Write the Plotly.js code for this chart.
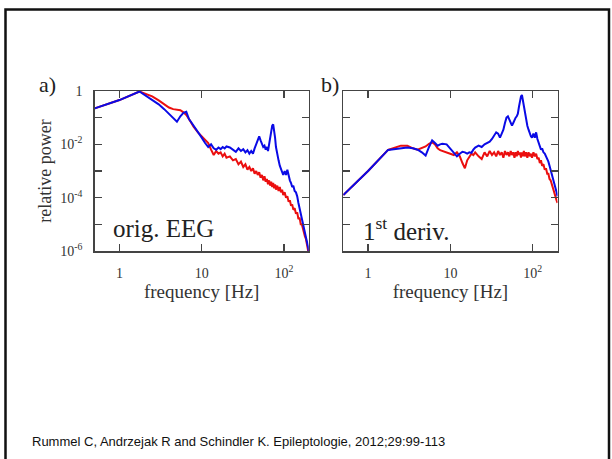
<!DOCTYPE html>
<html>
<head>
<meta charset="utf-8">
<script src="https://cdn.plot.ly/plotly-3.0.1.min.js"></script>
<style>html,body{margin:0;padding:0;background:#fff;}#chart{width:612px;height:459px;}</style>
</head>
<body>
<div id="chart"></div>
<script>
// frequency bins [Hz]
const freq = [0.5,1,1.75,2.5,3,3.5,4,4.5,5,5.5,6,6.5,7,7.5,8,9,10,11,12,13,14,15,16,17,18,19,20,22,24,26,28,30,32,34,36,38,40,42,44,46,48,50,52,54,56,58,60,62,64,66,68,70,72,74,76,78,80,83,86,89,92,95,98,102,106,110,114,118,122,126,130,135,140,145,150,155,160,165,170,175,180,185,190,195,200];

// panel a) original EEG, log10(relative power)
const blueA_log10 = [-0.65,-0.34,-0.02,-0.35,-0.5,-0.68,-0.85,-1.0,-1.15,-0.95,-0.82,-0.78,-1.05,-1.18,-1.3,-1.55,-1.75,-1.95,-2.1,-2.0,-2.15,-2.2,-2.12,-2.18,-2.1,-2.15,-2.08,-2.12,-2.2,-2.28,-2.15,-2.25,-2.18,-2.3,-2.22,-2.35,-2.25,-2.35,-2.15,-2.0,-1.8,-1.7,-1.85,-1.95,-2.1,-2.05,-2.2,-2.1,-2.25,-2.0,-1.7,-1.45,-1.3,-1.25,-1.45,-1.75,-2.1,-2.45,-2.6,-2.8,-2.95,-3.0,-3.15,-3.0,-3.15,-2.95,-3.2,-3.35,-3.45,-3.6,-3.55,-3.75,-3.8,-3.95,-4.2,-4.4,-4.55,-4.75,-4.9,-5.05,-5.25,-5.45,-5.6,-5.8,-6.0];
const redA_log10 = [-0.65,-0.34,-0.02,-0.2,-0.35,-0.48,-0.62,-0.68,-0.7,-0.72,-0.8,-0.9,-1.05,-1.2,-1.35,-1.55,-1.7,-1.85,-1.95,-2.2,-2.4,-2.25,-2.35,-2.3,-2.45,-2.35,-2.5,-2.45,-2.6,-2.55,-2.75,-2.65,-2.85,-2.75,-2.95,-2.85,-3.0,-2.9,-3.1,-3.0,-3.15,-3.05,-3.25,-3.15,-3.35,-3.2,-3.4,-3.3,-3.5,-3.35,-3.55,-3.4,-3.6,-3.45,-3.65,-3.5,-3.7,-3.55,-3.75,-3.6,-3.8,-3.7,-3.9,-3.8,-4.0,-3.95,-4.15,-4.1,-4.3,-4.25,-4.45,-4.4,-4.6,-4.55,-4.8,-4.75,-5.0,-5.0,-5.2,-5.25,-5.45,-5.55,-5.75,-5.9,-6.1];

// panel b) 1st derivative, log10(relative power)
const blueB_log10 = [-3.9,-3.0,-2.21,-2.15,-2.12,-2.15,-2.2,-2.3,-2.42,-2.1,-1.85,-1.95,-2.05,-2.0,-1.98,-2.0,-2.15,-2.3,-2.45,-2.35,-2.28,-2.3,-2.35,-2.3,-2.32,-2.2,-2.12,-2.05,-2.1,-2.0,-1.95,-1.9,-1.8,-1.65,-1.55,-1.6,-1.75,-1.6,-1.45,-1.2,-1.0,-0.95,-1.1,-1.2,-1.3,-1.2,-1.05,-1.0,-0.95,-0.85,-0.6,-0.35,-0.2,-0.15,-0.35,-0.6,-0.85,-1.05,-1.3,-1.45,-1.6,-1.7,-1.75,-1.6,-1.75,-1.55,-1.8,-1.95,-2.05,-2.2,-2.15,-2.3,-2.35,-2.45,-2.5,-2.65,-2.8,-2.95,-3.05,-3.2,-3.35,-3.5,-3.65,-3.8,-3.95];
const redB_log10 = [-3.9,-3.0,-2.21,-2.05,-2.05,-2.15,-2.2,-2.15,-2.08,-1.98,-1.92,-2.0,-2.15,-2.22,-2.25,-2.28,-2.35,-2.4,-2.3,-2.45,-2.7,-2.9,-2.6,-2.45,-2.35,-2.4,-2.3,-2.45,-2.55,-2.3,-2.45,-2.25,-2.4,-2.3,-2.45,-2.25,-2.4,-2.3,-2.5,-2.25,-2.4,-2.3,-2.45,-2.25,-2.4,-2.3,-2.5,-2.3,-2.45,-2.25,-2.4,-2.3,-2.5,-2.3,-2.45,-2.25,-2.45,-2.3,-2.5,-2.3,-2.45,-2.35,-2.5,-2.3,-2.45,-2.35,-2.55,-2.5,-2.7,-2.6,-2.8,-2.75,-2.95,-2.9,-3.1,-3.1,-3.3,-3.35,-3.5,-3.6,-3.75,-3.85,-3.95,-4.1,-4.2];

const xTickVals = [1, 10, 100];
const xTickText = ['1', '10', '10<sup>2</sup>'];
const yTickVals = [1, 1e-1, 1e-2, 1e-3, 1e-4, 1e-5, 1e-6];
const yTickTextA = ['1', '', '10<sup>-2</sup>', '', '10<sup>-4</sup>', '', '10<sup>-6</sup>'];

const panelLabels = ['a)', 'b)'];
const insetLabels = ['orig. EEG', '1<sup>st</sup> deriv.'];
const xTitle = 'frequency [Hz]';
const yTitle = 'relative power';
const footer = 'Rummel C, Andrzejak R and Schindler K. Epileptologie, 2012;29:99-113';

const W = 612, H = 459;
const PX = p => p / W;
const PY = p => 1 - p / H;
const toPow = a => a.map(v => Math.pow(10, v));

const BLUE = 'rgb(10,10,230)';
const RED = 'rgb(235,15,15)';
const serif = 'Liberation Serif, Times New Roman, serif';

const traces = [
  {x: freq, y: toPow(redA_log10), xaxis: 'x', yaxis: 'y', mode: 'lines', line: {color: RED, width: 2}, name: 'red a'},
  {x: freq, y: toPow(blueA_log10), xaxis: 'x', yaxis: 'y', mode: 'lines', line: {color: BLUE, width: 2}, name: 'blue a'},
  {x: freq, y: toPow(redB_log10), xaxis: 'x2', yaxis: 'y2', mode: 'lines', line: {color: RED, width: 2}, name: 'red b'},
  {x: freq, y: toPow(blueB_log10), xaxis: 'x2', yaxis: 'y2', mode: 'lines', line: {color: BLUE, width: 2}, name: 'blue b'}
];

const axisCommon = {
  showgrid: false, zeroline: false, showline: true, mirror: 'ticks',
  linecolor: '#444', linewidth: 1.5, ticks: 'inside', ticklen: 7, tickwidth: 1.5, tickcolor: '#444',
  tickfont: {family: serif, size: 14, color: '#333'}, automargin: false, fixedrange: true
};

const xr = [Math.log10(0.5), Math.log10(200)];
const layout = {
  width: W, height: H,
  margin: {l: 0, r: 0, t: 0, b: 0},
  paper_bgcolor: '#fff', plot_bgcolor: '#fff',
  showlegend: false,
  xaxis: Object.assign({}, axisCommon, {
    type: 'log', range: xr, domain: [PX(94.7), PX(308.7)], anchor: 'y',
    tickmode: 'array', tickvals: xTickVals, ticktext: xTickText, ticklabelstandoff: 9,
    title: {text: xTitle, font: {family: serif, size: 19, color: '#333'}, standoff: 1}
  }),
  yaxis: Object.assign({}, axisCommon, {
    type: 'log', range: [-6, 0], domain: [PY(251), PY(91)], anchor: 'x',
    tickmode: 'array', tickvals: yTickVals, ticktext: yTickTextA, ticklabelstandoff: 8,
    title: {text: yTitle, font: {family: serif, size: 18, color: '#333'}, standoff: 4}
  }),
  xaxis2: Object.assign({}, axisCommon, {
    type: 'log', range: xr, domain: [PX(343.3), PX(557.5)], anchor: 'y2',
    tickmode: 'array', tickvals: xTickVals, ticktext: xTickText, ticklabelstandoff: 9,
    title: {text: xTitle, font: {family: serif, size: 19, color: '#333'}, standoff: 1}
  }),
  yaxis2: Object.assign({}, axisCommon, {
    type: 'log', range: [-6, 0], domain: [PY(251), PY(91)], anchor: 'x2',
    tickmode: 'array', tickvals: yTickVals, showticklabels: false
  }),
  annotations: [
    {text: panelLabels[0], xref: 'paper', yref: 'paper', x: PX(47), y: PY(85), xanchor: 'center', yanchor: 'middle', showarrow: false, font: {family: serif, size: 22, color: '#222'}},
    {text: panelLabels[1], xref: 'paper', yref: 'paper', x: PX(330), y: PY(85), xanchor: 'center', yanchor: 'middle', showarrow: false, font: {family: serif, size: 22, color: '#222'}},
    {text: insetLabels[0], xref: 'paper', yref: 'paper', x: PX(111), y: PY(229), xanchor: 'left', yanchor: 'middle', showarrow: false, font: {family: serif, size: 25, color: '#222'}},
    {text: insetLabels[1], xref: 'paper', yref: 'paper', x: PX(361), y: PY(229), xanchor: 'left', yanchor: 'middle', showarrow: false, font: {family: serif, size: 25, color: '#222'}},
    {text: footer, xref: 'paper', yref: 'paper', x: PX(30), y: PY(441), xanchor: 'left', yanchor: 'middle', showarrow: false, font: {family: 'Liberation Sans, Arial, sans-serif', size: 13, color: '#111'}}
  ],
  shapes: [
    {type: 'rect', xref: 'paper', yref: 'paper', x0: PX(5.5), x1: PX(609), y0: PY(9.5), y1: PY(480), line: {color: '#111', width: 2.5}, fillcolor: 'rgba(0,0,0,0)', layer: 'above'}
  ]
};

Plotly.newPlot('chart', traces, layout, {staticPlot: true, displayModeBar: false});
</script>
</body>
</html>
